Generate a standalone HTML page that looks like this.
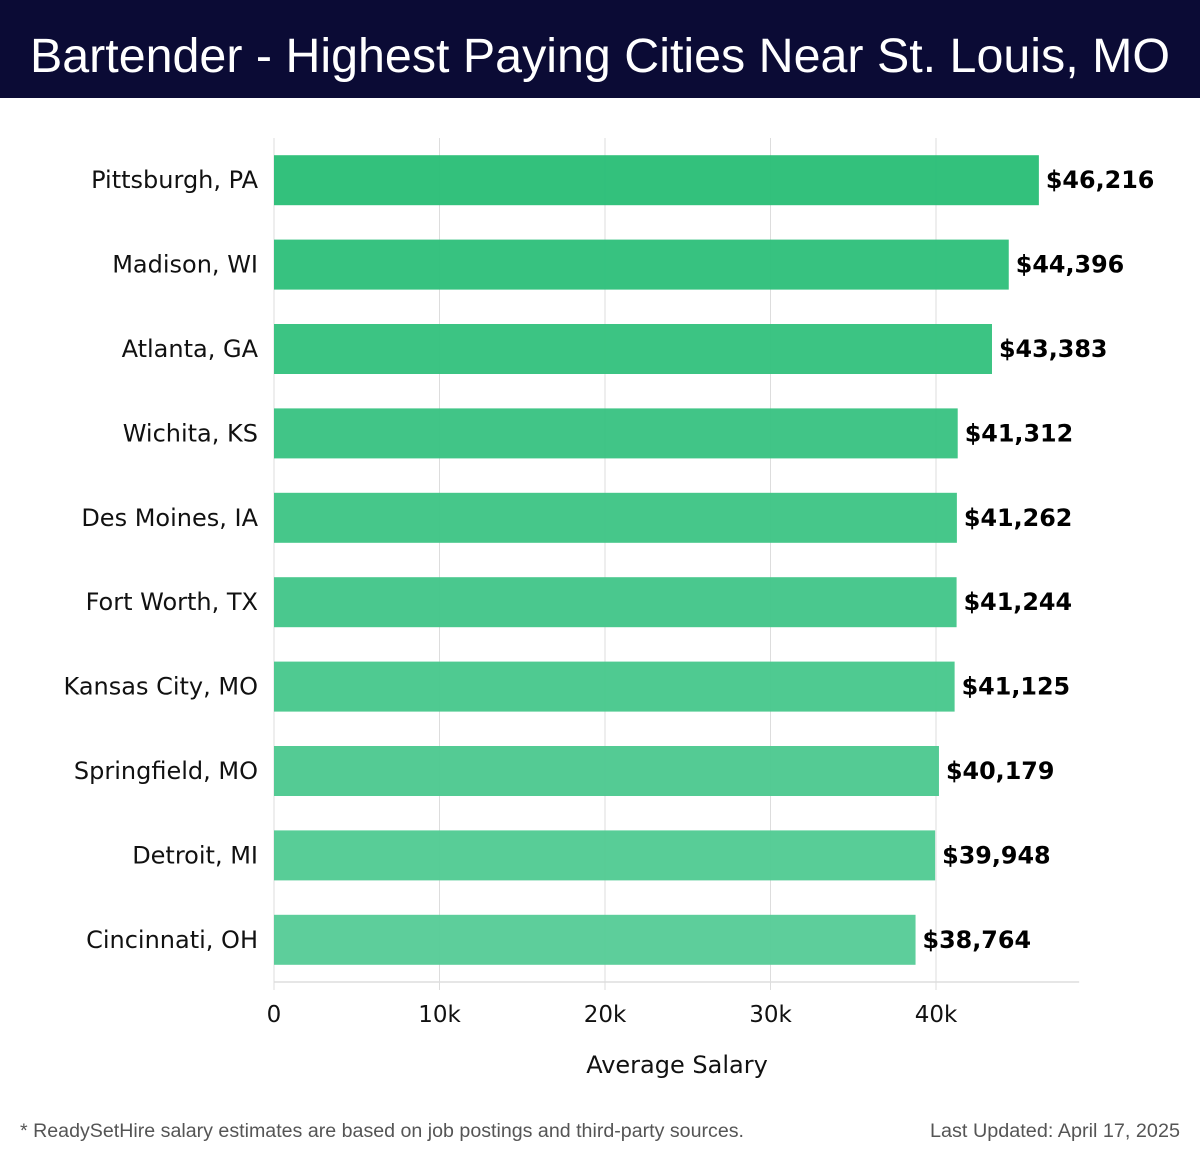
<!DOCTYPE html>
<html><head><meta charset="utf-8"><style>
html,body{margin:0;padding:0;background:#fff;}
svg{display:block;font-family:"Liberation Sans","DejaVu Sans",sans-serif;}
.dv{font-family:"DejaVu Sans","Liberation Sans",sans-serif;}
</style></head><body>
<svg id="chart" width="1200" height="1158" viewBox="0 0 1200 1158" xmlns="http://www.w3.org/2000/svg">
<rect x="0" y="0" width="1200" height="98" fill="#0b0b35"/>
<text x="30" y="72" font-size="48" fill="#fff" textLength="1140" lengthAdjust="spacingAndGlyphs">Bartender - Highest Paying Cities Near St. Louis, MO</text>
<g id="grid"></g><g id="bars"></g><g id="axis"></g>
<text class="dv" x="677" y="1073" font-size="24" text-anchor="middle" fill="#111">Average Salary</text>
<text x="20" y="1137" font-size="19" fill="#555" textLength="724" lengthAdjust="spacingAndGlyphs">* ReadySetHire salary estimates are based on job postings and third-party sources.</text>
<text x="1180" y="1137" font-size="19" fill="#555" text-anchor="end" textLength="250" lengthAdjust="spacingAndGlyphs">Last Updated: April 17, 2025</text>
</svg>
<script>
const categories=["Pittsburgh, PA","Madison, WI","Atlanta, GA","Wichita, KS","Des Moines, IA","Fort Worth, TX","Kansas City, MO","Springfield, MO","Detroit, MI","Cincinnati, OH"];
const salaries=[46216,44396,43383,41312,41262,41244,41125,40179,39948,38764];
const ticks=[0,10000,20000,30000,40000];
const tickLabels=["0","10k","20k","30k","40k"];
const NS="http://www.w3.org/2000/svg";
const x0=274,pxPer=165.5/10000,xMax=48650,plotTop=138,band=84.4,barH=50;
const xs=v=>x0+v*pxPer;
const yb=i=>plotTop+i*band+(band-barH)/2;
function mk(t,a,p){const e=document.createElementNS(NS,t);for(const k in a)e.setAttribute(k,a[k]);p.appendChild(e);return e;}
const grid=document.getElementById('grid'),bars=document.getElementById('bars'),axis=document.getElementById('axis');
ticks.forEach((t,i)=>{
 const g=mk('line',{x1:xs(t),x2:xs(t),y1:plotTop,y2:990,stroke:'#ddd','stroke-width':1},grid);
 
 
 const l=mk('text',{class:'dv',x:xs(t),y:1022,'font-size':23,'text-anchor':'middle',fill:'#111'},axis);
 l.textContent=tickLabels[i];
 
 
});
const base=mk('line',{x1:x0,x2:xs(xMax),y1:982,y2:982,stroke:'#ddd','stroke-width':1.5},axis);


const c0=[44,191,120],c1=[88,204,152];
categories.forEach((c,i)=>{
 const f=i/(categories.length-1);
 const col=`rgb(${c0.map((v,k)=>Math.round(v+(c1[k]-v)*f)).join(',')})`;
 const r=mk('rect',{x:x0,y:yb(i),width:xs(salaries[i])-x0,height:barH,fill:col,'fill-opacity':0.97},bars);
 
 
 const lab=mk('text',{class:'dv',x:258,y:yb(i)+barH/2+8,'font-size':24,'text-anchor':'end',fill:'#111'},bars);
 lab.textContent=c;
 
 
 const txt='$'+salaries[i].toLocaleString('en-US');
 const v=mk('text',{class:'dv',x:xs(salaries[i])+7,y:yb(i)+barH/2+8,'font-size':24,'font-weight':'bold',fill:'#000',textLength:txt.length*15.5,lengthAdjust:'spacingAndGlyphs'},bars);
 v.textContent=txt;
 
 
});
</script>
</body></html>
